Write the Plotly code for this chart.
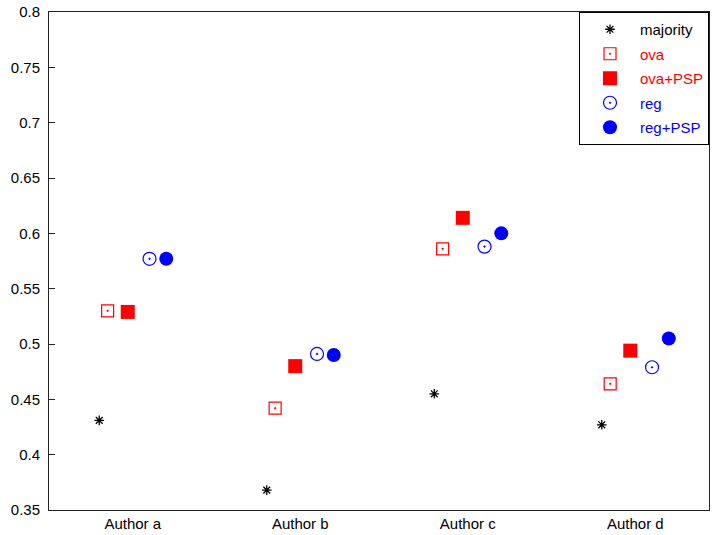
import plotly.graph_objects as go

# Accuracy per author for each method
authors = ["Author a", "Author b", "Author c", "Author d"]
majority = [0.431, 0.368, 0.455, 0.427]
ova = [0.530, 0.442, 0.586, 0.464]
ova_psp = [0.529, 0.480, 0.614, 0.494]
reg = [0.577, 0.491, 0.588, 0.479]
reg_psp = [0.577, 0.490, 0.600, 0.505]

y_ticks = [0.35, 0.4, 0.45, 0.5, 0.55, 0.6, 0.65, 0.7, 0.75, 0.8]
y_tick_text = ["0.35", "0.4", "0.45", "0.5", "0.55", "0.6", "0.65", "0.7", "0.75", "0.8"]

# horizontal offset of each method within an author's slot
series = [
    ("majority", majority, -0.20, "black", dict(symbol="asterisk-open", size=8, color="black", line=dict(color="black", width=1.3))),
    ("ova", ova, -0.15, "red", dict(symbol="square-open-dot", size=12, color="red", line=dict(color="red", width=1.2))),
    ("ova+PSP", ova_psp, -0.03, "red", dict(symbol="square", size=14, color="red", line=dict(width=0))),
    ("reg", reg, 0.10, "blue", dict(symbol="circle-open-dot", size=13, color="blue", line=dict(color="blue", width=1.2))),
    ("reg+PSP", reg_psp, 0.20, "blue", dict(symbol="circle", size=14, color="blue", line=dict(width=0))),
]

fig = go.Figure()
for name, vals, off, col, marker in series:
    fig.add_trace(go.Scatter(
        x=[i + off for i in range(len(authors))],
        y=vals,
        mode="markers",
        marker=marker,
        name=f"<span style='color:{col}'>{name}</span>",
        legendgroup=name,
    ))

fig.update_layout(
    width=713, height=535,
    margin=dict(l=49, r=3, t=10, b=25),
    plot_bgcolor="white", paper_bgcolor="white",
    font=dict(family="Liberation Sans, Arial, sans-serif", size=15, color="black"),
    showlegend=True,
    legend=dict(
        x=1, xanchor="right", y=1, yanchor="top",
        bordercolor="black", borderwidth=1, bgcolor="white",
        itemwidth=50, tracegroupgap=2,
        font=dict(size=15),
    ),
    xaxis=dict(
        range=[-0.5, 3.44],
        tickvals=list(range(len(authors))), ticktext=authors,
        ticks="", showgrid=False, zeroline=False,
        showline=True, linecolor="#222", linewidth=1, mirror=True,
    ),
    yaxis=dict(
        range=[0.35, 0.8],
        tickvals=y_ticks, ticktext=y_tick_text,
        ticks="inside", ticklen=6, tickcolor="#222",
        showgrid=False, zeroline=False,
        showline=True, linecolor="#222", linewidth=1, mirror=True,
        ticklabelstandoff=5,
    ),
)

fig.write_html("out.html")
